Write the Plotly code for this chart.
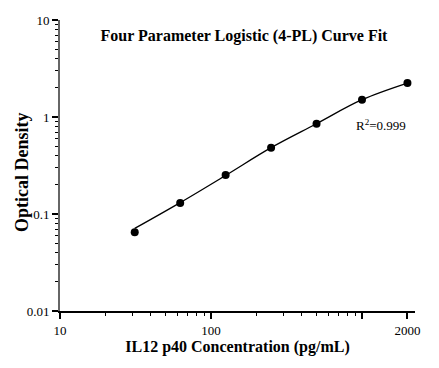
import plotly.graph_objects as go

# Data
concentration = [31.25, 62.5, 125, 250, 500, 1000, 2000]
optical_density = [0.065, 0.130, 0.252, 0.483, 0.853, 1.508, 2.24]
fit_od = [0.071, 0.131, 0.250, 0.483, 0.853, 1.508, 2.24]

x_tickvals = [10, 100, 1000, 2000]
x_ticktext = ["10", "100", "", "2000"]
y_tickvals = [0.01, 0.1, 1, 10]
y_ticktext = ["0.01", "0.1", "1", "10"]

serif = "Liberation Serif, Times New Roman, serif"

fig = go.Figure()
fig.add_trace(go.Scatter(
    x=concentration, y=fit_od, mode="lines",
    line=dict(color="black", width=1.3, shape="spline"),
    showlegend=False, hoverinfo="skip"))
fig.add_trace(go.Scatter(
    x=concentration, y=optical_density, mode="markers",
    marker=dict(color="black", size=8),
    showlegend=False))

fig.update_layout(
    width=439, height=368,
    margin=dict(l=60, r=24, t=20, b=57, autoexpand=False),
    paper_bgcolor="white", plot_bgcolor="white",
    font=dict(family=serif, color="black", size=13),
    title=dict(text="<b>Four Parameter Logistic (4-PL) Curve Fit</b>",
               font=dict(family=serif, size=16, color="black"),
               x=244/439, xref="container", xanchor="center",
               y=1-35/368, yref="container", yanchor="middle"),
    annotations=[
        dict(text="R<sup>2</sup>=0.999", xref="paper", yref="paper",
             x=(381-60)/355, y=(311-125)/291, xanchor="center",
             yanchor="middle", showarrow=False,
             font=dict(family=serif, size=13, color="black")),
        dict(text="<b>Optical Density</b>", xref="paper", yref="paper",
             x=(22-60)/355, y=(311-172)/291, xanchor="center",
             yanchor="middle", textangle=-90, showarrow=False,
             font=dict(family=serif, size=18, color="black")),
    ],
)

fig.update_xaxes(
    type="log", range=[1, 3.351], automargin=False,
    tickmode="array", tickvals=x_tickvals, ticktext=x_ticktext,
    ticks="outside", ticklen=6, tickwidth=1.5, tickcolor="black",
    minor=dict(ticks="outside", ticklen=3, tickwidth=1, tickcolor="black", dtick="D1", showgrid=False),
    showline=True, linecolor="black", linewidth=2,
    showgrid=False, zeroline=False,
    tickfont=dict(family=serif, size=13),
    title=dict(text="<b>IL12 p40 Concentration (pg/mL)</b>",
               font=dict(family=serif, size=16), standoff=2),
)
fig.update_yaxes(
    type="log", range=[-2, 1], automargin=False,
    tickmode="array", tickvals=y_tickvals, ticktext=y_ticktext,
    ticks="outside", ticklen=6, tickwidth=1.5, tickcolor="black",
    minor=dict(ticks="outside", ticklen=3, tickwidth=1, tickcolor="black", dtick="D1", showgrid=False),
    showline=True, linecolor="#666666", linewidth=2,
    showgrid=False, zeroline=False,
    tickfont=dict(family=serif, size=13),
)

fig.write_html("out.html", config={"displayModeBar": False},
               post_script="document.body.style.margin='0';")
